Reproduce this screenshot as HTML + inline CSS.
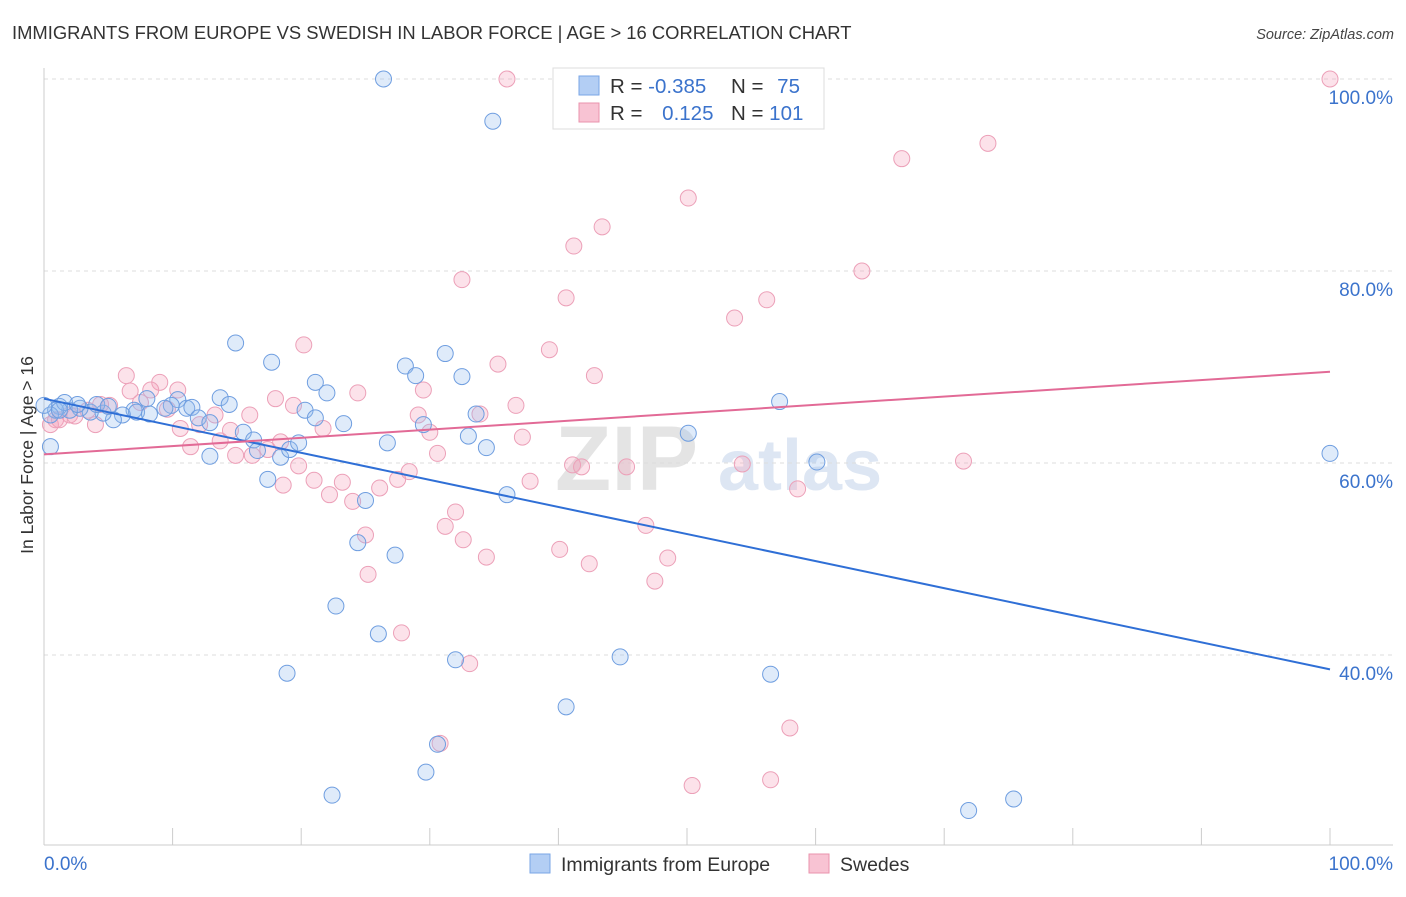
<!DOCTYPE html>
<html><head><meta charset="utf-8"><style>
body{margin:0;background:#fff;font-family:"Liberation Sans",sans-serif;}
svg text{font-family:"Liberation Sans",sans-serif;}
</style></head><body>
<svg id="chart" width="1406" height="892" xmlns="http://www.w3.org/2000/svg">
<text x="12" y="39" font-size="18.4" fill="#333">IMMIGRANTS FROM EUROPE VS SWEDISH IN LABOR FORCE | AGE &gt; 16 CORRELATION CHART</text>
<text x="1394" y="39" font-size="14.5" fill="#444" font-style="italic" text-anchor="end">Source: ZipAtlas.com</text>
<text transform="translate(33,455) rotate(-90)" font-size="17.5" fill="#333" text-anchor="middle">In Labor Force | Age &gt; 16</text>
<g>
<text x="555" y="490" font-size="92" fill="#e4e4e4" font-family="Liberation Serif" font-weight="bold">ZIP</text>
<text x="718" y="490" font-size="72" fill="#dde6f3" font-weight="bold">atlas</text>
</g>
<g id="grid"></g>
<g id="axes"></g>
<g id="points"></g>
<g id="lines"></g>
<g>
<rect x="553" y="68" width="271" height="61" fill="#fff" stroke="#ddd"/>
<rect x="579" y="76" width="20" height="19" fill="#b3cef4" stroke="#7aa6e6"/>
<rect x="579" y="103" width="20" height="19" fill="#f8c3d3" stroke="#ea93ad"/>
<text x="610" y="93" font-size="20.5" fill="#333">R = <tspan fill="#3b73cc">-0.385</tspan></text>
<text x="731" y="93" font-size="20.5" fill="#333">N = <tspan fill="#3b73cc" dx="8">75</tspan></text>
<text x="610" y="120" font-size="20.5" fill="#333">R = <tspan fill="#3b73cc" dx="14">0.125</tspan></text>
<text x="731" y="120" font-size="20.5" fill="#333">N = <tspan fill="#3b73cc">101</tspan></text>
</g>
<g>
<rect x="530" y="854" width="20" height="19" fill="#b3cef4" stroke="#7aa6e6"/>
<text x="561" y="871" font-size="19.5" fill="#333">Immigrants from Europe</text>
<rect x="809" y="854" width="20" height="19" fill="#f8c3d3" stroke="#ea93ad"/>
<text x="840" y="871" font-size="19.5" fill="#333">Swedes</text>
</g>
</svg>
<script>
const blueX=[26.4,34.9,14.9,17.7,31.2,28.1,28.9,32.5,21.1,22.0,13.7,14.4,10.4,9.9,11.1,11.5,8.0,7.0,6.1,5.4,4.6,3.6,2.8,2.0,1.2,0.9,0.5,1.6,2.6,4.1,5.0,7.2,8.2,9.4,12.0,12.9,15.5,16.3,16.6,18.4,19.1,19.8,20.3,21.1,23.3,26.7,29.5,33.0,33.6,34.4,36.0,25.0,24.4,27.3,12.9,17.4,22.7,26.0,18.9,32.0,44.8,56.5,40.6,30.6,29.7,22.4,71.9,75.4,50.1,57.2,60.1,100,0.5,0,1.2];
const blueY=[100,95.6,72.5,70.5,71.4,70.1,69.1,69.0,68.4,67.3,66.8,66.1,66.6,66.0,65.7,65.8,66.7,65.5,65.0,64.5,65.2,65.3,65.7,65.5,65.9,65.5,65.0,66.3,66.1,66.1,65.9,65.3,65.1,65.7,64.7,64.2,63.2,62.4,61.3,60.6,61.4,62.1,65.5,64.7,64.1,62.1,64.0,62.8,65.1,61.6,56.7,56.1,51.7,50.4,60.7,58.3,45.1,42.2,38.1,39.5,39.8,38.0,34.6,30.7,27.8,25.4,23.8,25.0,63.1,66.4,60.1,61.0,61.7,66.0,65.5];
const pinkX=[36.0,100,73.4,66.7,50.1,43.4,41.2,32.5,63.6,40.6,56.2,53.7,20.2,39.3,35.3,42.8,6.4,9.0,10.4,6.7,8.3,24.4,29.5,18.0,19.4,36.7,29.1,33.9,30.0,5.1,3.4,2.0,0.9,0.5,4.4,7.5,9.6,13.3,10.6,12.1,14.5,16.0,21.7,16.2,14.9,17.4,18.4,11.4,30.6,37.2,41.1,41.8,45.3,54.3,71.5,58.6,19.8,21.0,23.2,22.2,24.0,26.1,27.5,28.4,37.8,31.2,32.0,32.6,34.4,40.1,42.4,46.8,48.5,47.5,25.2,25.0,27.8,33.1,30.8,58.0,50.4,56.5,1.2,2.4,4.0,18.6,13.7];
const pinkY=[100,100,93.3,91.7,87.6,84.6,82.6,79.1,80.0,77.2,77.0,75.1,72.3,71.8,70.3,69.1,69.1,68.4,67.6,67.5,67.6,67.3,67.6,66.7,66.0,66.0,65.0,65.1,63.2,66.0,65.5,65.0,64.5,64.0,66.1,66.3,65.6,65.0,63.6,64.0,63.4,65.0,63.6,60.8,60.8,61.4,62.2,61.7,61.0,62.7,59.8,59.6,59.6,59.9,60.2,57.3,59.7,58.2,58.0,56.7,56.0,57.4,58.3,59.1,58.1,53.4,54.9,52.0,50.2,51.0,49.5,53.5,50.1,47.7,48.4,52.5,42.3,39.1,30.8,32.4,26.4,27.0,64.5,64.9,64.0,57.7,62.3];
const blueTrend=[66.7,38.5];
const pinkTrend=[60.9,69.5];
const yTicks=[100,80,60,40];
const yTickLabels=["100.0%","80.0%","60.0%","40.0%"];
const xTicks=[0,10,20,30,40,50,60,70,80,90,100];
const NS="http://www.w3.org/2000/svg";
const sx=v=>44+v*12.86;
const sy=v=>79+(100-v)*9.6;
function mk(tag,attrs,parent){const e=document.createElementNS(NS,tag);for(const k in attrs)e.setAttribute(k,attrs[k]);parent.appendChild(e);return e;}
const grid=document.getElementById('grid'),axes=document.getElementById('axes'),pts=document.getElementById('points'),lines=document.getElementById('lines');
yTicks.forEach((t,i)=>{
 const l=mk('line',{x1:44,x2:1393,y1:sy(t),y2:sy(t),stroke:'#ddd','stroke-dasharray':'4,4'},grid);
 
 
 const tx=mk('text',{x:1393,y:sy(t)+25,'font-size':19,fill:'#3b73cc','text-anchor':'end'},axes);
 tx.textContent=yTickLabels[i];
 
 
});
const ax=mk('line',{x1:44,x2:1393,y1:845,y2:845,stroke:'#ccc'},axes);


const ay=mk('line',{x1:44,x2:44,y1:68,y2:845,stroke:'#ccc'},axes);


xTicks.forEach(t=>{
 const l=mk('line',{x1:sx(t),x2:sx(t),y1:828,y2:845,stroke:'#ccc'},axes);
 
 
});
const x0=mk('text',{x:44,y:870,'font-size':19,fill:'#3b73cc'},axes);x0.textContent='0.0%';


const x1=mk('text',{x:1393,y:870,'font-size':19,fill:'#3b73cc','text-anchor':'end'},axes);x1.textContent='100.0%';


pinkX.forEach((x,i)=>{
 const c=mk('circle',{cx:sx(x),cy:sy(pinkY[i]),r:8,fill:'rgba(244,160,186,0.3)',stroke:'#eca0b8','stroke-width':1},pts);
 
 
});
blueX.forEach((x,i)=>{
 const c=mk('circle',{cx:sx(x),cy:sy(blueY[i]),r:8,fill:'rgba(150,188,240,0.3)',stroke:'#6f9ee0','stroke-width':1},pts);
 
 
});
const bl=mk('line',{x1:sx(0),y1:sy(blueTrend[0]),x2:sx(100),y2:sy(blueTrend[1]),stroke:'#2f6fd6','stroke-width':2},lines);


const pl=mk('line',{x1:sx(0),y1:sy(pinkTrend[0]),x2:sx(100),y2:sy(pinkTrend[1]),stroke:'#e26a96','stroke-width':2},lines);


</script>
</body></html>
